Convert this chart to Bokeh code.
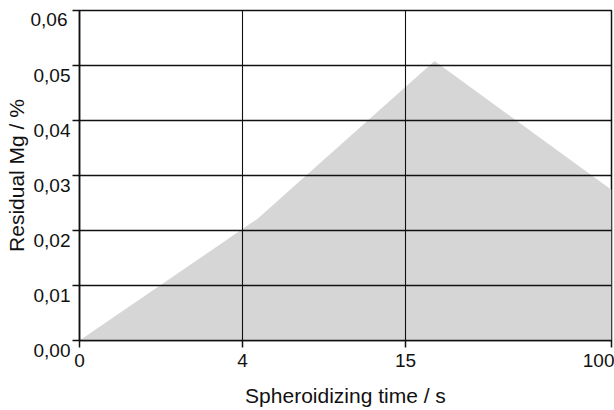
import numpy as np
from bokeh.plotting import figure
from bokeh.models import FixedTicker, Range1d, LinearAxis
from bokeh.embed import file_html
from bokeh.resources import INLINE

# ---- data ----
time_s = [0, 5, 27, 100]
residual_mg = [0.0, 0.0221, 0.0508, 0.0274]

x_ticks = [0, 4, 15, 100]
x_tick_labels = ["0", "4", "15", "100"]
y_ticks = [0.00, 0.01, 0.02, 0.03, 0.04, 0.05, 0.06]
y_tick_labels = ["0,00", "0,01", "0,02", "0,03", "0,04", "0,05", "0,06"]

x_title = "Spheroidizing time / s"
y_title = "Residual Mg / %"

# the time axis of the original is piecewise (non-uniform) between its ticks
AXIS_SLOTS = [0.0, 1.0, 2.0, 3.264]


def to_axis(t):
    return [float(v) for v in np.interp(t, x_ticks, AXIS_SLOTS)]


FONT = "Liberation Sans"
INK = "#111111"
FRAME_H = 330          # px, plot frame height
LABEL_DROP = 9         # px, y tick labels hang below their tick in the original
LABEL_W = 37           # px, width of a "0,0x" label at 19px

y0, y1 = y_ticks[0], y_ticks[-1]
p = figure(width=614, height=410,
           x_range=Range1d(AXIS_SLOTS[0], AXIS_SLOTS[-1]),
           y_range=Range1d(y0, y1),
           output_backend="svg", toolbar_location=None,
           min_border_left=79, min_border_right=3,
           min_border_top=10, min_border_bottom=70)
p.outline_line_color = INK
p.outline_line_width = 1.5
p.background_fill_color = "white"
p.border_fill_color = "white"

p.varea(x=to_axis(time_s), y1=[0.0] * len(time_s), y2=residual_mg,
        fill_color="#d6d6d6", fill_alpha=1.0)

xt = FixedTicker(ticks=to_axis(x_ticks))
yt = FixedTicker(ticks=y_ticks)
p.xaxis[0].ticker = xt
p.xgrid[0].ticker = xt
p.yaxis[0].ticker = yt
p.ygrid[0].ticker = yt

p.xaxis[0].major_label_overrides = {pos: lab for pos, lab in zip(to_axis(x_ticks), x_tick_labels)}

# y tick labels hang just below their tick in the original.
# main axis: a leading empty line pushes each label half a line down
main_y = p.yaxis[0]
main_over = {v: "\n" + s for v, s in zip(y_ticks, y_tick_labels)}
main_over[y1] = ""   # the top label would be pushed off the canvas; drawn below
main_y.major_label_overrides = main_over
main_y.major_label_text_line_height = 0.95
main_y.major_label_standoff = 2

# top label: a second left axis on a range shifted down by LABEL_DROP px
shift = (y1 - y0) * LABEL_DROP / FRAME_H
eps = (y1 - y0) * 1e-7
p.extra_y_ranges = {"labels": Range1d(y0 + shift - eps, y1 + shift + eps)}
ylab = LinearAxis(y_range_name="labels", ticker=FixedTicker(ticks=[y1]))
ylab.major_label_overrides = {y1: y_tick_labels[-1]}
ylab.axis_line_color = None
ylab.major_tick_line_color = None
ylab.major_tick_out = 0
ylab.major_tick_in = 0
ylab.minor_tick_line_color = None
ylab.major_label_standoff = -LABEL_W
p.add_layout(ylab, "left")

for ax in (p.xaxis[0], main_y, ylab):
    ax.major_label_text_font = FONT
    ax.major_label_text_font_size = "19px"
    ax.major_label_text_color = INK
    ax.axis_label_text_font = FONT
    ax.axis_label_text_font_size = "21px"
    ax.axis_label_text_font_style = "normal"
    ax.axis_label_text_color = INK

for ax in (p.xaxis[0], main_y):
    ax.axis_line_color = INK
    ax.axis_line_width = 1.5
    ax.major_tick_line_color = INK
    ax.major_tick_line_width = 1.5
    ax.major_tick_out = 7
    ax.major_tick_in = 0
    ax.minor_tick_line_color = None

p.xaxis[0].axis_label = x_title
ylab.axis_label = y_title
ylab.axis_label_standoff = 0
p.xaxis[0].major_label_standoff = 6
p.xaxis[0].axis_label_standoff = 14

p.ygrid[0].grid_line_color = INK
p.ygrid[0].grid_line_width = 1.6
p.ygrid[0].level = "annotation"
p.xgrid[0].grid_line_color = INK
p.xgrid[0].grid_line_width = 1.1
p.xgrid[0].level = "annotation"

open("out.html", "w").write(file_html(p, INLINE))
